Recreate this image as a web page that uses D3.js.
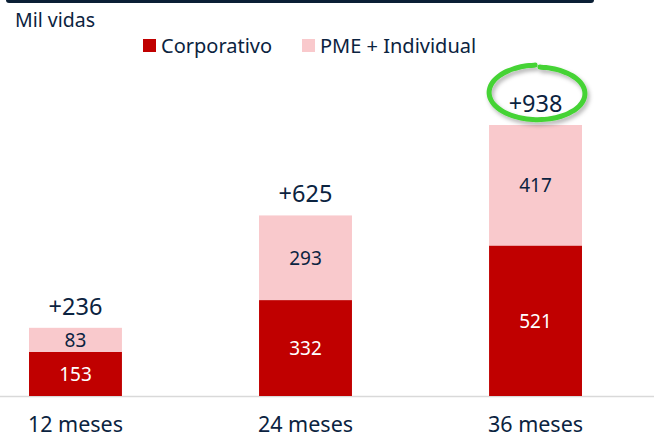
<!DOCTYPE html>
<html>
<head>
<meta charset="utf-8">
<script src="https://cdn.jsdelivr.net/npm/d3@7"></script>
<style>
  body { margin: 0; background: #fff; }
  svg { display: block; font-family: "Noto Sans", "Open Sans", sans-serif; }
</style>
</head>
<body>
<div id="chart"></div>
<script>
var categories = ['12 meses', '24 meses', '36 meses'];
var series_names = ['Corporativo', 'PME + Individual'];
var corporativo = [153, 332, 521];
var pme_individual = [83, 293, 417];
var totals_labels = ['+236', '+625', '+938'];

var colors = ['#C00000', '#F9C9CC'];
var navy = '#0B2340';

var W = 654, H = 438;

var svg = d3.select('#chart').append('svg')
  .attr('width', W)
  .attr('height', H);

var defs = svg.append('defs');
var shadow = defs.append('filter').attr('id', 'shadow')
  .attr('x', '-30%').attr('y', '-30%').attr('width', '160%').attr('height', '160%');
shadow.append('feDropShadow')
  .attr('dx', 2).attr('dy', 3).attr('stdDeviation', 2)
  .attr('flood-color', '#000').attr('flood-opacity', 0.3);

// top rule
svg.append('rect')
  .attr('x', 6).attr('y', -4)
  .attr('width', 588).attr('height', 7)
  .attr('rx', 3)
  .style('fill', '#0B1F35');

svg.append('text')
  .attr('x', 15).attr('y', 27)
  .style('font-size', '19.5px')
  .style('fill', navy)
  .text('Mil vidas');

// legend
var legend_items = [{x: 143, tx: 161}, {x: 302, tx: 320}];
legend_items.forEach((l, i) => {
  svg.append('rect')
    .attr('x', l.x).attr('y', 39)
    .attr('width', 13).attr('height', 13)
    .style('fill', colors[i]);
  svg.append('text')
    .attr('x', l.tx).attr('y', 53)
    .style('font-size', '20px')
    .style('fill', navy)
    .text(series_names[i]);
});

var x = d3.scaleBand()
  .domain(categories)
  .range([-86, 697])
  .paddingInner(0.596)
  .paddingOuter(0.5);

var y = d3.scaleLinear()
  .domain([0, 938])
  .range([396, 125]);

var data = categories.map((c, i) => ({
  cat: c,
  components: [
    {y0: 0, y1: corporativo[i], v: corporativo[i], k: 0},
    {y0: corporativo[i], y1: corporativo[i] + pme_individual[i], v: pme_individual[i], k: 1}
  ],
  total: corporativo[i] + pme_individual[i],
  label: totals_labels[i]
}));

var gph = svg.append('g').attr('class', 'bar-stacked-graph');

// baseline
gph.append('line')
  .attr('x1', 0).attr('x2', W)
  .attr('y1', y(0) + 0.5).attr('y2', y(0) + 0.5)
  .style('stroke', '#D9D9D9')
  .style('stroke-width', 1.5);

var layer = gph.selectAll('.layer')
  .data(data)
  .enter().append('g')
  .attr('class', 'layer');

layer.selectAll('rect.bar')
  .data((d) => d.components.map((c) => Object.assign({cat: d.cat}, c)))
  .enter().append('rect')
  .attr('class', 'bar')
  .attr('x', (d) => x(d.cat))
  .attr('y', (d) => y(d.y1))
  .attr('width', x.bandwidth())
  .attr('height', (d) => y(d.y0) - y(d.y1))
  .style('fill', (d) => colors[d.k]);

layer.selectAll('text.seg')
  .data((d) => d.components.map((c) => Object.assign({cat: d.cat}, c)))
  .enter().append('text')
  .attr('class', 'seg')
  .attr('x', (d) => x(d.cat) + x.bandwidth() / 2)
  .attr('y', (d) => (y(d.y0) + y(d.y1)) / 2)
  .attr('dy', '0.36em')
  .attr('text-anchor', 'middle')
  .style('font-size', '19px')
  .style('fill', (d) => d.k === 0 ? '#fff' : navy)
  .text((d) => d.v);

layer.append('text')
  .attr('class', 'total')
  .attr('x', (d) => x(d.cat) + x.bandwidth() / 2)
  .attr('y', (d) => y(d.total) - 13)
  .attr('text-anchor', 'middle')
  .style('font-size', '23.5px')
  .style('fill', navy)
  .text((d) => d.label);

// x labels
gph.selectAll('text.xlab')
  .data(categories)
  .enter().append('text')
  .attr('class', 'xlab')
  .attr('x', (d) => x(d) + x.bandwidth() / 2)
  .attr('y', 432)
  .attr('text-anchor', 'middle')
  .style('font-size', '21.5px')
  .style('fill', navy)
  .text((d) => d);

// hand-drawn highlight round the largest total
var last = data[data.length - 1];
var cx = x(last.cat) + x.bandwidth() / 2 + 1;
var cy = y(last.total) - 31;
var rx = 49, ry = 27;
var pts = d3.range(0, 1.001, 0.02).map((t) => {
  var a = -1.5 + t * (2 * Math.PI - 0.1);
  var grow = 1 - 0.04 * t;
  return [cx + rx * grow * Math.cos(a), cy + ry * grow * Math.sin(a) - 3 * t * t];
});
gph.append('path')
  .attr('d', d3.line().curve(d3.curveBasis)(pts))
  .style('fill', 'none')
  .style('stroke', '#45D335')
  .style('stroke-width', 5)
  .style('stroke-linecap', 'round')
  .attr('filter', 'url(#shadow)');
</script>
</body>
</html>
